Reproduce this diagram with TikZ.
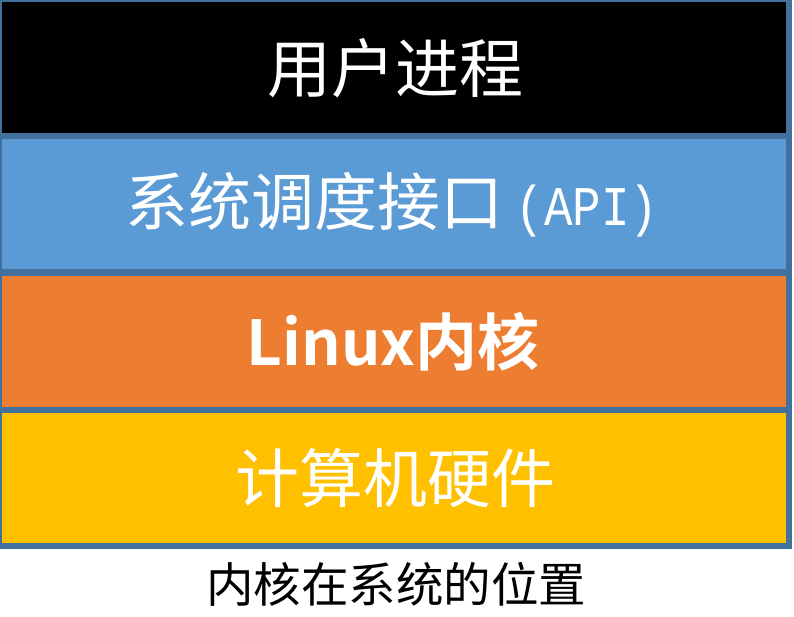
\documentclass[tikz,border=0pt]{standalone}
\usepackage{fontspec}
\newfontfamily\cjk{Noto Sans CJK SC}
\newfontfamily\cjkb{Noto Sans CJK SC Bold}
\newfontfamily\monof[FakeStretch=0.85]{Liberation Mono}
\definecolor{bordc}{HTML}{41719C}
\definecolor{bluec}{HTML}{5B9BD5}
\definecolor{orangec}{HTML}{ED7D31}
\definecolor{yellowc}{HTML}{FFC000}
\tikzset{
  big/.style={text=white, inner sep=0pt, font=\cjk\fontsize{64}{70}\selectfont},
}
\begin{document}
\begin{tikzpicture}[x=1pt,y=-1pt]
\useasboundingbox (0,0) rectangle (794,616);
\fill[bordc] (0,0) rectangle (792,549);
\fill[black]   (2,2)   rectangle (786,133);
\fill[bluec]   (2,139) rectangle (786,269);
\fill[orangec] (2,276) rectangle (786,407);
\fill[yellowc] (2,413) rectangle (786,543);
\node[big] (user) at (395,68) {用户进程};
\node[big, font=\cjk\fontsize{63}{69}\selectfont] (api) at (392,205) {系统调度接口\hspace{12pt}{\monof\fontsize{56}{60}\selectfont(API)}};
\node[big, font=\cjkb\fontsize{62}{68}\selectfont] (kern) at (393,342) {Linux内核};
\node[big] (hw) at (395,478) {计算机硬件};
\node[text=black, inner sep=0pt, font=\cjk\fontsize{47.5}{52}\selectfont] (cap) at (396,584) {内核在系统的位置};
\end{tikzpicture}
\end{document}
